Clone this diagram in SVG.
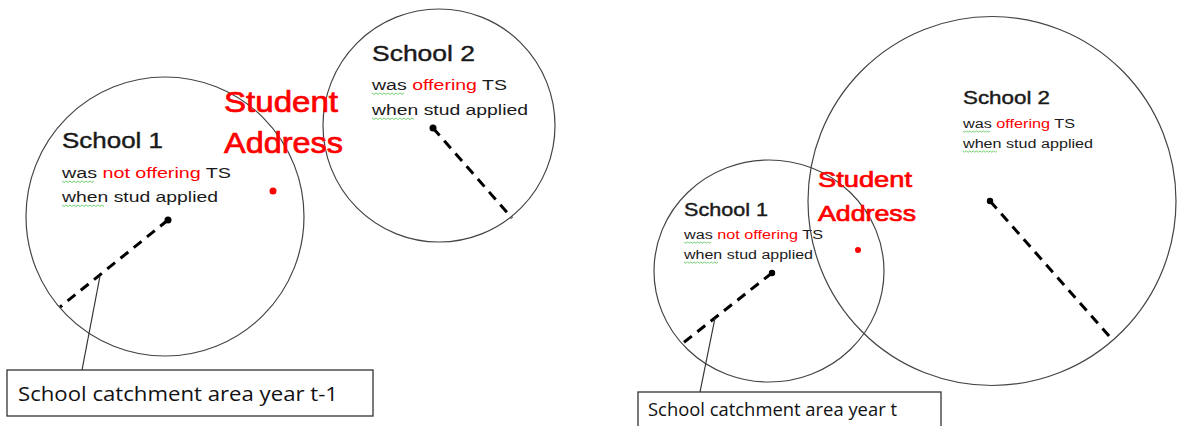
<svg xmlns="http://www.w3.org/2000/svg" width="1177" height="426" viewBox="0 0 1177 426">
<style>
.circ{fill:none;stroke:#444;stroke-width:1.2}
.dot{fill:#000}
.rdot{fill:#f00}
.rad{stroke:#000;stroke-width:3;stroke-dasharray:10 7;fill:none}
.lead{stroke:#333;stroke-width:1.2;fill:none}
.box{fill:#fff;stroke:#333;stroke-width:1.3}
.t{font-family:"Liberation Sans",Arial,sans-serif;fill:#1a1a1a}
.h{stroke:#1a1a1a;stroke-width:0.4}
.red{fill:#f00}
.addr{font-family:"Liberation Sans",Arial,sans-serif;fill:#f00;stroke:#f00;stroke-width:0.7}
.cal{font-family:"Open Sans","Liberation Sans",sans-serif;fill:#111}
.sq{fill:none;stroke:#6c6;stroke-width:0.9}
</style>
<rect width="1177" height="426" fill="#fff"/>

<!-- Left panel: year t-1 -->
<g id="school1-t1">
<ellipse class="circ" cx="165" cy="216.5" rx="139" ry="139.5"/>
<circle class="dot" cx="168" cy="220" r="3.5"/>
<text class="t h" x="62" y="148" font-size="22" textLength="101" lengthAdjust="spacingAndGlyphs">School 1</text>
<text class="t" x="62" y="178" font-size="15.5" textLength="169" lengthAdjust="spacingAndGlyphs">was <tspan class="red">not offering</tspan> TS</text>
<text class="t" x="62" y="202" font-size="15.5" textLength="156" lengthAdjust="spacingAndGlyphs">when stud applied</text>
<path class="sq" d="M62 181 l2 1.5 l2 -1.5 l2 1.5 l2 -1.5 l2 1.5 l2 -1.5 l2 1.5 l2 -1.5 l2 1.5 l2 -1.5 l2 1.5 l2 -1.5 l2 1.5 l2 -1.5 l2 1.5 l2 -1.5"/>
<path class="sq" d="M62 205 l2 1.5 l2 -1.5 l2 1.5 l2 -1.5 l2 1.5 l2 -1.5 l2 1.5 l2 -1.5 l2 1.5 l2 -1.5 l2 1.5 l2 -1.5 l2 1.5 l2 -1.5 l2 1.5 l2 -1.5 l2 1.5 l2 -1.5 l2 1.5 l2 -1.5 l2 1.5"/>
</g>

<g id="school2-t1">
<ellipse class="circ" cx="439" cy="125.5" rx="116" ry="116.5"/>
<circle class="dot" cx="433" cy="128" r="3.5"/>
<text class="t h" x="372" y="61" font-size="22" textLength="103" lengthAdjust="spacingAndGlyphs">School 2</text>
<text class="t" x="372" y="90" font-size="15.5" textLength="135" lengthAdjust="spacingAndGlyphs">was <tspan class="red">offering</tspan> TS</text>
<text class="t" x="372" y="115" font-size="15.5" textLength="156" lengthAdjust="spacingAndGlyphs">when stud applied</text>
<path class="sq" d="M372 93 l2 1.5 l2 -1.5 l2 1.5 l2 -1.5 l2 1.5 l2 -1.5 l2 1.5 l2 -1.5 l2 1.5 l2 -1.5 l2 1.5 l2 -1.5 l2 1.5 l2 -1.5 l2 1.5 l2 -1.5"/>
<path class="sq" d="M372 118 l2 1.5 l2 -1.5 l2 1.5 l2 -1.5 l2 1.5 l2 -1.5 l2 1.5 l2 -1.5 l2 1.5 l2 -1.5 l2 1.5 l2 -1.5 l2 1.5 l2 -1.5 l2 1.5 l2 -1.5 l2 1.5 l2 -1.5 l2 1.5 l2 -1.5 l2 1.5"/>
</g>

<g id="student-t1">
<text class="addr" x="224" y="112" font-size="29" textLength="114" lengthAdjust="spacingAndGlyphs">Student</text>
<text class="addr" x="224" y="153" font-size="29" textLength="119" lengthAdjust="spacingAndGlyphs">Address</text>
<circle class="rdot" cx="273" cy="191" r="3.5"/>
</g>

<g id="callout-t1">
<rect class="box" x="7" y="370" width="366" height="46"/>
<text class="cal" x="18" y="401" font-size="20" textLength="320" lengthAdjust="spacingAndGlyphs">School catchment area year t-1</text>
</g>

<!-- Right panel: year t -->
<g id="school1-t">
<ellipse class="circ" cx="769" cy="271" rx="115" ry="111"/>
<circle class="dot" cx="772" cy="273" r="3.2"/>
<text class="t h" x="684" y="216" font-size="18" textLength="84" lengthAdjust="spacingAndGlyphs">School 1</text>
<text class="t" x="684" y="239" font-size="12.5" textLength="139" lengthAdjust="spacingAndGlyphs">was <tspan class="red">not offering</tspan> TS</text>
<text class="t" x="684" y="259" font-size="12.5" textLength="129" lengthAdjust="spacingAndGlyphs">when stud applied</text>
<path class="sq" d="M684 242 l1.7 1.2 l1.7 -1.2 l1.7 1.2 l1.7 -1.2 l1.7 1.2 l1.7 -1.2 l1.7 1.2 l1.7 -1.2 l1.7 1.2 l1.7 -1.2 l1.7 1.2 l1.7 -1.2 l1.7 1.2 l1.7 -1.2 l1.7 1.2 l1.7 -1.2"/>
<path class="sq" d="M684 262 l1.7 1.2 l1.7 -1.2 l1.7 1.2 l1.7 -1.2 l1.7 1.2 l1.7 -1.2 l1.7 1.2 l1.7 -1.2 l1.7 1.2 l1.7 -1.2 l1.7 1.2 l1.7 -1.2 l1.7 1.2 l1.7 -1.2 l1.7 1.2 l1.7 -1.2 l1.7 1.2 l1.7 -1.2 l1.7 1.2 l1.7 -1.2"/>
</g>

<g id="school2-t">
<ellipse class="circ" cx="992" cy="201" rx="184" ry="184.5"/>
<circle class="dot" cx="990" cy="201" r="3.2"/>
<text class="t h" x="963" y="104" font-size="18" textLength="87" lengthAdjust="spacingAndGlyphs">School 2</text>
<text class="t" x="963" y="128" font-size="12.5" textLength="112" lengthAdjust="spacingAndGlyphs">was <tspan class="red">offering</tspan> TS</text>
<text class="t" x="963" y="148" font-size="12.5" textLength="130" lengthAdjust="spacingAndGlyphs">when stud applied</text>
<path class="sq" d="M963 131 l1.7 1.2 l1.7 -1.2 l1.7 1.2 l1.7 -1.2 l1.7 1.2 l1.7 -1.2 l1.7 1.2 l1.7 -1.2 l1.7 1.2 l1.7 -1.2 l1.7 1.2 l1.7 -1.2 l1.7 1.2 l1.7 -1.2 l1.7 1.2 l1.7 -1.2"/>
<path class="sq" d="M963 151 l1.7 1.2 l1.7 -1.2 l1.7 1.2 l1.7 -1.2 l1.7 1.2 l1.7 -1.2 l1.7 1.2 l1.7 -1.2 l1.7 1.2 l1.7 -1.2 l1.7 1.2 l1.7 -1.2 l1.7 1.2 l1.7 -1.2 l1.7 1.2 l1.7 -1.2 l1.7 1.2 l1.7 -1.2 l1.7 1.2 l1.7 -1.2"/>
</g>

<g id="student-t">
<text class="addr" x="818" y="187" font-size="22" textLength="94" lengthAdjust="spacingAndGlyphs" stroke-width="0.5">Student</text>
<text class="addr" x="818" y="221" font-size="22" textLength="98" lengthAdjust="spacingAndGlyphs" stroke-width="0.5">Address</text>
<circle class="rdot" cx="858" cy="250" r="3"/>
</g>

<g id="callout-t">
<rect class="box" x="638" y="392" width="303" height="40"/>
<text class="cal" x="648" y="416" font-size="18" textLength="249" lengthAdjust="spacingAndGlyphs">School catchment area year t</text>
</g>

<g id="connectors">
<line class="rad" x1="168" y1="220" x2="60" y2="307"/>
<line class="rad" x1="433" y1="128" x2="512" y2="218"/>
<line class="rad" x1="772" y1="273" x2="683" y2="343"/>
<line class="rad" x1="990" y1="201" x2="1110" y2="337"/>
<line class="lead" x1="100" y1="276" x2="82" y2="370"/>
<line class="lead" x1="715" y1="318" x2="700" y2="392"/>
</g>
</svg>
